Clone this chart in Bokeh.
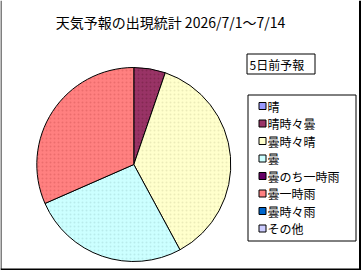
import math
from bokeh.plotting import figure
from bokeh.models import Range1d, ColumnDataSource
from bokeh.core.properties import value
from bokeh.embed import file_html
from bokeh.resources import INLINE

# ---- data ----
title_text = "天気予報の出現統計 2026/7/1～7/14"
series_name = "5日前予報"
categories = ["晴", "晴時々曇", "曇時々晴", "曇", "曇のち一時雨", "曇一時雨", "曇時々雨", "その他"]
counts = [0, 1, 7, 5, 0, 6, 0, 0]
colors = ["#9999FF", "#993366", "#FFFFCC", "#CCFFFF", "#660066", "#FF8080", "#0066CC", "#CCCCFF"]
dot_colors = ["#7777DD", "#772244", "#DDDDAA", "#AADDDD", "#440044", "#DD6060", "#004499", "#AAAADD"]

W, H = 361, 270
FONT = value("Noto Sans CJK JP")

p = figure(width=W, height=H, output_backend="svg", toolbar_location=None,
           x_range=Range1d(0, W), y_range=Range1d(0, H), min_border=0)
p.axis.visible = False
p.grid.visible = False
p.outline_line_color = None
p.background_fill_color = "white"
p.border_fill_color = "white"

def sy(y):
    return H - y

# outer frame (left, right, bottom)
p.segment(x0=[0.5], y0=[sy(0)], x1=[0.5], y1=[sy(269)], line_color="black", line_width=1)
p.segment(x0=[359.5], y0=[sy(0)], x1=[359.5], y1=[sy(270)], line_color="black", line_width=2)
p.segment(x0=[0], y0=[sy(269)], x1=[361], y1=[sy(269)], line_color="black", line_width=2)

# title
p.text(x=[170], y=[sy(21)], text=[title_text], text_font=FONT, text_font_size="14px",
       text_align="center", text_baseline="middle", text_color="black")

# pie
total = sum(counts)
cx, cy, r = 133.3, sy(164), 97
starts, ends, fills, dots = [], [], [], []
cum = 0
for c, col, dc in zip(counts, colors, dot_colors):
    if c > 0:
        a0 = math.pi / 2 - 2 * math.pi * (cum + c) / total
        a1 = math.pi / 2 - 2 * math.pi * cum / total
        starts.append(a0)
        ends.append(a1)
        fills.append(col)
        dots.append(dc)
    cum += c
src = ColumnDataSource(dict(x=[cx] * len(starts), y=[cy] * len(starts), s=starts, e=ends, f=fills, d=dots))
p.wedge(x="x", y="y", radius=r, radius_units="screen", start_angle="s", end_angle="e",
        fill_color="f", line_color="black", line_width=1, source=src,
        hatch_pattern="dot", hatch_color="d", hatch_scale=4, hatch_alpha=0.6)

# series name box
p.quad(left=[246.5], right=[314.5], top=[sy(53.5)], bottom=[sy(73.5)],
       fill_color="white", line_color="black", line_width=1)
p.text(x=[249], y=[sy(63.5)], text=[series_name], text_font=FONT, text_font_size="12px",
       text_align="left", text_baseline="middle", text_color="black")

# legend box
p.quad(left=[247.5], right=[355.5], top=[sy(94.5)], bottom=[sy(240.5)],
       fill_color="white", line_color="black", line_width=1)
n = len(categories)
ys = [105.5 + 17.5 * i for i in range(n)]
p.quad(left=[258.5] * n, right=[265.5] * n, top=[sy(y - 3.5) for y in ys], bottom=[sy(y + 3.5) for y in ys],
       fill_color=colors, line_color="black", line_width=1)
p.text(x=[267] * n, y=[sy(y) for y in ys], text=categories, text_font=FONT, text_font_size="12px",
       text_align="left", text_baseline="middle", text_color="black")

open("out.html", "w").write(file_html(p, INLINE))
